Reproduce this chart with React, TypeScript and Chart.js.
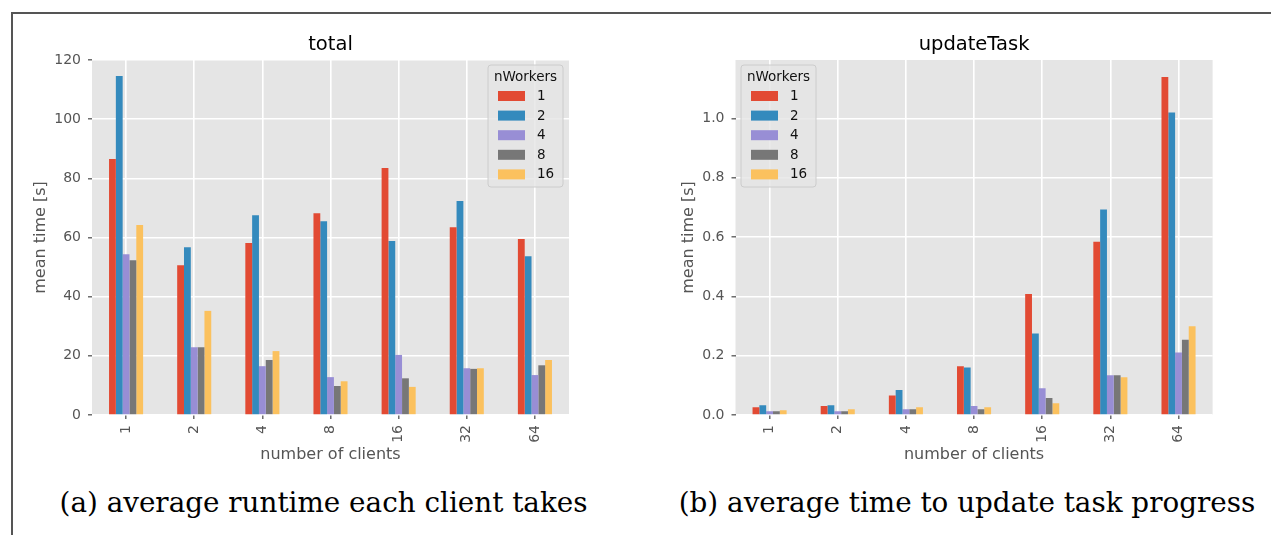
import React, { useEffect, useRef } from "react";
import { Chart, registerables } from "chart.js";

Chart.register(...registerables);

// ---------- data ----------
const categories = ["1", "2", "4", "8", "16", "32", "64"];
const workerLabels = ["1", "2", "4", "8", "16"];
const workerColors = ["#E24A33", "#348ABD", "#988ED5", "#777777", "#FBC15E"];

const total1 = [86.5, 50.6, 58.1, 68.2, 83.5, 63.5, 59.5];
const total2 = [114.6, 56.7, 67.5, 65.5, 58.8, 72.3, 53.7];
const total4 = [54.3, 22.9, 16.5, 12.8, 20.3, 15.8, 13.5];
const total8 = [52.3, 22.9, 18.6, 9.8, 12.4, 15.6, 16.8];
const total16 = [64.2, 35.2, 21.6, 11.4, 9.5, 15.8, 18.6];

const upd1 = [0.026, 0.03, 0.066, 0.164, 0.408, 0.584, 1.14];
const upd2 = [0.033, 0.033, 0.084, 0.16, 0.275, 0.693, 1.02];
const upd4 = [0.013, 0.013, 0.019, 0.03, 0.09, 0.134, 0.211];
const upd8 = [0.013, 0.013, 0.019, 0.019, 0.057, 0.134, 0.254];
const upd16 = [0.016, 0.019, 0.026, 0.026, 0.04, 0.127, 0.299];

const totalTicks = [0, 20, 40, 60, 80, 100, 120];
const updTicks = [0, 0.2, 0.4, 0.6, 0.8, 1.0];

const FONT = "DejaVu Sans";

const bgPlugin = {
  id: "bg",
  beforeDraw(chart: any) {
    const { ctx, chartArea: ca } = chart;
    ctx.save();
    ctx.fillStyle = "#E5E5E5";
    ctx.fillRect(ca.left, ca.top, ca.right - ca.left, ca.bottom - ca.top);
    ctx.restore();
  },
};

function titlePlugin(text: string) {
  return {
    id: "axTitle",
    afterDraw(chart: any) {
      const { ctx, chartArea: ca } = chart;
      ctx.save();
      ctx.font = `19.5px "${FONT}"`;
      ctx.fillStyle = "#000";
      ctx.textAlign = "center";
      ctx.textBaseline = "alphabetic";
      ctx.fillText(text, (ca.left + ca.right) / 2, 30);
      ctx.restore();
    },
  };
}

function legendPlugin(side: "left" | "right") {
  return {
    id: "boxLegend",
    afterDatasetsDraw(chart: any) {
      const { ctx, chartArea: ca } = chart;
      const w = 75;
      const h = 122;
      const x = side === "right" ? ca.right - 6 - w : ca.left + 5.5;
      const y = ca.top + 5;
      ctx.save();
      ctx.beginPath();
      ctx.roundRect(x, y, w, h, 3);
      ctx.fillStyle = "rgba(229,229,229,0.8)";
      ctx.fill();
      ctx.strokeStyle = "#CCCCCC";
      ctx.lineWidth = 1;
      ctx.stroke();
      ctx.font = `13.5px "${FONT}"`;
      ctx.fillStyle = "#111";
      ctx.textAlign = "center";
      ctx.textBaseline = "middle";
      ctx.fillText("nWorkers", x + w / 2, y + 12);
      ctx.textAlign = "left";
      chart.data.datasets.forEach((ds: any, i: number) => {
        const yy = y + 31 + i * 19.6;
        ctx.fillStyle = ds.backgroundColor;
        ctx.fillRect(x + 10, yy - 5, 27, 10);
        ctx.fillStyle = "#111";
        ctx.fillText(ds.label, x + 49, yy + 0.5);
      });
      ctx.restore();
    },
  };
}

type Props = {
  title: string;
  series: number[][];
  yMax: number;
  yTicks: number[];
  fmt: (v: number) => string;
  legendSide: "left" | "right";
  left: number;
  yAxisWidth: number;
  padRight: number;
  yTitlePad: number;
};

function BarChart(p: Props) {
  const ref = useRef<HTMLCanvasElement>(null);
  useEffect(() => {
    const chart = new Chart(ref.current as HTMLCanvasElement, {
      type: "bar",
      data: {
        labels: categories,
        datasets: p.series.map((d, i) => ({
          label: workerLabels[i],
          data: d,
          backgroundColor: workerColors[i],
          borderWidth: 0,
          categoryPercentage: 0.5,
          barPercentage: 1.0,
        })),
      },
      options: {
        animation: false,
        responsive: false,
        devicePixelRatio: 1,
        layout: { padding: { left: 0, top: 40, right: p.padRight, bottom: 0 } },
        plugins: {
          legend: { display: false },
          tooltip: { enabled: false },
          title: { display: false },
        },
        scales: {
          x: {
            grid: {
              color: "#FFFFFF",
              lineWidth: 1.6,
              offset: false,
              tickColor: "#555555",
              tickLength: 4,
              tickWidth: 1.3,
            },
            border: { display: false },
            ticks: {
              color: "#555555",
              font: { family: FONT, size: 14 },
              maxRotation: 90,
              minRotation: 90,
              autoSkip: false,
              padding: 6,
            },
            title: {
              display: true,
              text: "number of clients",
              color: "#555555",
              font: { family: FONT, size: 16 },
              padding: { top: 0, bottom: 5.4 },
            },
            afterFit: (s: any) => {
              s.height = 55;
            },
          },
          y: {
            min: 0,
            max: p.yMax,
            afterBuildTicks: (s: any) => {
              s.ticks = p.yTicks.map((v) => ({ value: v }));
            },
            grid: {
              color: "#FFFFFF",
              lineWidth: 1.6,
              tickColor: "#555555",
              tickLength: 4,
              tickWidth: 1.3,
            },
            border: { display: false },
            ticks: {
              color: "#555555",
              font: { family: FONT, size: 14 },
              padding: 7,
              callback: (v: any) => p.fmt(Number(v)),
            },
            title: {
              display: true,
              text: "mean time [s]",
              color: "#555555",
              font: { family: FONT, size: 16 },
              padding: { top: p.yTitlePad, bottom: 0 },
            },
            afterFit: (s: any) => {
              s.width = p.yAxisWidth;
            },
          },
        },
      } as any,
      plugins: [bgPlugin, titlePlugin(p.title), legendPlugin(p.legendSide)],
    });
    return () => chart.destroy();
  }, []);
  return (
    <canvas
      ref={ref}
      width={590}
      height={450}
      style={{ position: "absolute", left: p.left, top: 20, width: 590, height: 450 }}
    />
  );
}

const captionStyle: React.CSSProperties = {
  position: "absolute",
  top: 487,
  width: 700,
  textAlign: "center",
  fontFamily: '"DejaVu Serif", serif',
  fontSize: 27.8,
  lineHeight: "32px",
  color: "#000",
  whiteSpace: "nowrap",
};

export default function App() {
  return (
    <div
      style={{
        position: "absolute",
        left: 0,
        top: 0,
        width: 1271,
        height: 535,
        background: "#fff",
        overflow: "hidden",
      }}
    >
      <div
        style={{
          position: "absolute",
          left: 11,
          top: 12,
          width: 1271,
          height: 535,
          borderTop: "2px solid #555",
          borderLeft: "2px solid #555",
        }}
      />
      <BarChart
        title="total"
        series={[total1, total2, total4, total8, total16]}
        yMax={120}
        yTicks={totalTicks}
        fmt={(v) => String(v)}
        legendSide="right"
        left={20}
        yAxisWidth={72}
        padRight={41}
        yTitlePad={11.4}
      />
      <BarChart
        title="updateTask"
        series={[upd1, upd2, upd4, upd8, upd16]}
        yMax={1.197}
        yTicks={updTicks}
        fmt={(v) => v.toFixed(1)}
        legendSide="left"
        left={660}
        yAxisWidth={75.5}
        padRight={37.4}
        yTitlePad={19.4}
      />
      <div style={{ ...captionStyle, left: 323.5 - 350 }}>(a) average runtime each client takes</div>
      <div style={{ ...captionStyle, left: 967 - 350 }}>(b) average time to update task progress</div>
    </div>
  );
}
